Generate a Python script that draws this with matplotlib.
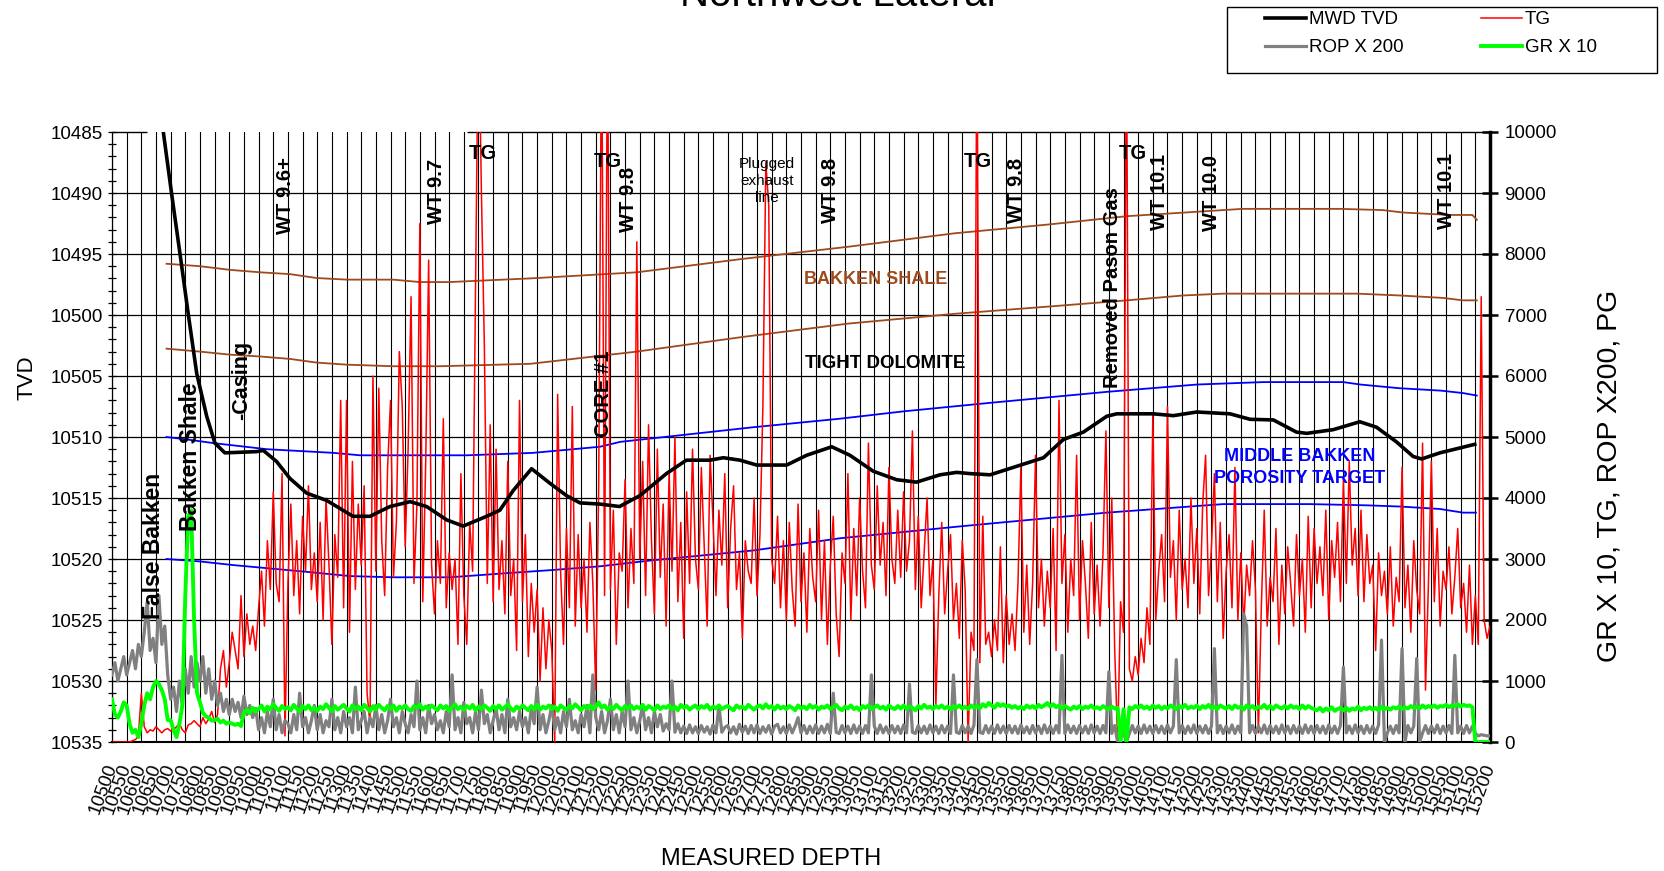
import numpy as np
import matplotlib
matplotlib.use("Agg")
import matplotlib.pyplot as plt
from matplotlib.patches import Rectangle
from matplotlib.ticker import MultipleLocator

plt.rcParams['font.family'] = ['Liberation Sans', 'DejaVu Sans']

# mud log samples, one every 10 ft of measured depth (10500 - 15200)
md_log = np.arange(10500, 15210, 10)

# total gas, one row per 100 ft
tg_rows = [
    [0, 0, 0, 0, 0, 0, 0, 20, 40, 100],
    [800, 250, 150, 200, 180, 250, 200, 150, 200, 220],
    [180, 200, 250, 300, 200, 150, 280, 300, 350, 300],
    [250, 400, 300, 380, 500, 320, 450, 1200, 1500, 900],
    [1300, 1800, 1500, 1200, 2400, 1400, 2100, 1600, 1900, 1500],
    [2200, 2800, 1900, 3300, 2500, 4100, 2600, 2300, 4400, 100],
    [2600, 3900, 2400, 3300, 2100, 3700, 2800, 4200, 2500, 3100],
    [2300, 3600, 2000, 4000, 2900, 1600, 3400, 2700, 5600, 2200],
    [5600, 1800, 4600, 2500, 3900, 2900, 4200, 800, 300, 6000],
    [2800, 5800, 3300, 2400, 4500, 5600, 2700, 3600, 6400, 5500],
    [3200, 4800, 7300, 2600, 3900, 8500, 2300, 4600, 7900, 2900],
    [2100, 3300, 2600, 5300, 2200, 3100, 2500, 3000, 1600, 4400],
    [2400, 1600, 3600, 2800, 7500, 12000, 9000, 6500, 2600, 5200],
    [2300, 4800, 2500, 3300, 2100, 4600, 2400, 3000, 1500, 5600],
    [2300, 3400, 1400, 2600, 1800, 2500, 1000, 2200, 1200, 2000],
    [1500, 0, 5700, 2800, 1600, 3500, 2200, 5500, 1900, 3400],
    [2200, 3000, 1800, 3600, 2600, 850, 4200, 12000, 2400, 12000],
    [2500, 3800, 1600, 3100, 2800, 4300, 2200, 3500, 2600, 8200],
    [3000, 4600, 2400, 5200, 3300, 2100, 4800, 2700, 3900, 1900],
    [4400, 2800, 5000, 2300, 3600, 1700, 4100, 2600, 4800, 3000],
    [2500, 4500, 3200, 1900, 4700, 3600, 2400, 3800, 2900, 4400],
    [2200, 3500, 4200, 2500, 3100, 1700, 3300, 2800, 2600, 4000],
    [2400, 3400, 5500, 9500, 8800, 3000, 2600, 3700, 2200, 3300],
    [2000, 3600, 2500, 1900, 3900, 2300, 3100, 1800, 3500, 2700],
    [2300, 3800, 2000, 3300, 1600, 2900, 3700, 2100, 1400, 3100],
    [2600, 4400, 2000, 3500, 2400, 4000, 2800, 2200, 4900, 2900],
    [2500, 4200, 2900, 3600, 2400, 4500, 3000, 2600, 3800, 2700],
    [4100, 2800, 3300, 5100, 2500, 3700, 2200, 3100, 4000, 2400],
    [3000, 600, 2400, 3600, 2100, 2800, 3400, 2000, 2600, 1700],
    [3300, 2500, 0, 1800, 1500, 12000, 1300, 3700, 1600, 1800],
    [1400, 2000, 1500, 3200, 1300, 2400, 1600, 2100, 1500, 2600],
    [4500, 1800, 2900, 1600, 2600, 4700, 2200, 3000, 1900, 2800],
    [2200, 3500, 1500, 5600, 2600, 3400, 1800, 3000, 2400, 4700],
    [2000, 3300, 2600, 1700, 3600, 2100, 2900, 1900, 3100, 5100],
    [2200, 4000, 1500, 0, 2300, 1800, 12000, 1200, 1000, 1400],
    [1100, 1700, 1300, 2200, 1600, 5400, 2000, 2800, 3400, 2300],
    [5500, 2700, 3300, 2000, 3800, 2500, 3000, 2200, 4000, 2600],
    [3500, 2100, 3900, 4700, 2400, 3200, 4400, 2300, 3600, 1700],
    [2800, 3400, 2200, 4500, 2000, 3100, 1900, 2900, 2400, 3300],
    [2500, 150, 2200, 3800, 1900, 2700, 2300, 3500, 1600, 2900],
    [2100, 3200, 2600, 1900, 3400, 2400, 3000, 1800, 3700, 2200],
    [3500, 2600, 3200, 2400, 3800, 2000, 3300, 2700, 3600, 2300],
    [4300, 2600, 4600, 2900, 3500, 2400, 3800, 2300, 3400, 2600],
    [2900, 1500, 3100, 2400, 2800, 2100, 3200, 1900, 2700, 2300],
    [4500, 2200, 2900, 1800, 3300, 2500, 2100, 4900, 850, 2600],
    [4600, 2300, 3500, 1900, 2800, 2500, 3200, 2100, 2700, 3500],
    [2200, 2600, 1800, 2900, 1600, 2400, 1600, 7300, 2000, 1700],
    [1900],
]

# rate of penetration x 200
rop_rows = [
    [1100, 1300, 1000, 1200, 1400, 1100, 1300, 1500, 1200, 1600],
    [1400, 1800, 2300, 1500, 1700, 1300, 2400, 1600, 1900, 1100],
    [700, 900, 500, 1000, 600, 1200, 800, 1400, 900, 1300],
    [1000, 1400, 800, 1200, 700, 1000, 600, 800, 500, 700],
    [450, 700, 500, 650, 400, 750, 450, 600, 400, 550],
    [200, 400, 150, 500, 250, 700, 200, 450, 150, 350],
    [300, 150, 450, 200, 800, 250, 400, 150, 350, 600],
    [200, 450, 150, 350, 250, 700, 200, 400, 150, 500],
    [250, 400, 150, 900, 200, 350, 500, 150, 400, 250],
    [600, 200, 450, 150, 350, 700, 250, 400, 150, 500],
    [300, 150, 450, 250, 1000, 200, 400, 150, 600, 300],
    [450, 200, 350, 150, 500, 250, 1100, 200, 400, 150],
    [650, 300, 400, 150, 500, 200, 850, 300, 450, 150],
    [350, 550, 200, 450, 150, 700, 250, 400, 200, 500],
    [250, 400, 150, 550, 300, 900, 200, 450, 150, 350],
    [600, 200, 400, 150, 500, 250, 700, 200, 350, 150],
    [450, 250, 600, 150, 1100, 400, 200, 500, 150, 350],
    [700, 200, 450, 150, 500, 250, 1000, 200, 400, 150],
    [350, 600, 200, 400, 150, 500, 250, 450, 180, 300],
    [200, 1000, 160, 300, 150, 260, 140, 280, 150, 250],
    [140, 270, 160, 250, 130, 280, 150, 600, 160, 240],
    [270, 150, 250, 130, 290, 160, 260, 140, 270, 150],
    [280, 140, 250, 160, 270, 130, 260, 290, 150, 250],
    [140, 280, 150, 260, 400, 150, 270, 140, 260, 150],
    [280, 140, 260, 150, 290, 140, 800, 160, 140, 270],
    [150, 260, 140, 280, 150, 260, 140, 270, 150, 1100],
    [260, 140, 280, 150, 250, 140, 270, 150, 260, 140],
    [280, 150, 950, 160, 140, 270, 150, 260, 140, 280],
    [150, 260, 140, 270, 150, 260, 140, 1100, 160, 140],
    [270, 150, 260, 140, 280, 1350, 160, 140, 270, 150],
    [260, 140, 280, 150, 260, 140, 270, 150, 260, 140],
    [280, 150, 250, 140, 270, 150, 260, 140, 280, 150],
    [260, 140, 270, 150, 1420, 140, 280, 150, 260, 140],
    [270, 150, 260, 140, 280, 150, 260, 140, 270, 150],
    [1150, 140, 270, 0, 260, 150, 0, 140, 270, 150],
    [260, 140, 280, 150, 260, 140, 270, 150, 260, 140],
    [280, 150, 260, 1350, 150, 270, 140, 260, 150, 280],
    [140, 260, 150, 270, 140, 260, 1530, 150, 270, 140],
    [260, 150, 280, 140, 260, 150, 2100, 1900, 150, 270],
    [140, 260, 150, 280, 140, 270, 150, 260, 140, 280],
    [150, 260, 140, 270, 150, 260, 140, 280, 150, 260],
    [140, 270, 150, 260, 140, 280, 150, 260, 140, 270],
    [1230, 150, 260, 140, 280, 150, 260, 140, 270, 150],
    [260, 140, 280, 1670, 0, 150, 260, 140, 270, 150],
    [1530, 0, 270, 150, 260, 1370, 0, 150, 270, 140],
    [260, 150, 280, 140, 260, 150, 270, 140, 1420, 150],
    [260, 140, 270, 150, 260, 140, 100, 120, 110, 100],
    [100],
]

# gamma ray x 10
gr_rows = [
    [700, 450, 400, 500, 650, 600, 300, 150, 200, 80],
    [300, 600, 800, 700, 900, 1000, 950, 850, 700, 360],
    [360, 200, 80, 300, 600, 2400, 3700, 3800, 2000, 800],
    [650, 480, 420, 400, 350, 360, 380, 320, 350, 300],
    [320, 300, 280, 300, 260, 480, 530, 470, 560, 500],
    [540, 600, 500, 580, 530, 620, 560, 510, 590, 540],
    [570, 520, 610, 550, 500, 590, 540, 600, 520, 560],
    [510, 580, 540, 620, 560, 500, 590, 530, 570, 610],
    [550, 500, 600, 540, 580, 520, 610, 560, 500, 590],
    [530, 610, 560, 520, 590, 540, 600, 510, 580, 550],
    [600, 540, 510, 590, 560, 620, 530, 580, 540, 600],
    [560, 520, 600, 550, 590, 510, 570, 620, 540, 580],
    [530, 590, 550, 610, 520, 580, 540, 600, 560, 510],
    [590, 540, 600, 530, 570, 620, 550, 510, 580, 540],
    [600, 560, 520, 590, 540, 610, 530, 580, 550, 600],
    [540, 580, 510, 600, 560, 530, 590, 550, 620, 570],
    [520, 590, 550, 600, 540, 580, 650, 560, 600, 530],
    [580, 540, 610, 560, 520, 590, 550, 600, 540, 580],
    [550, 610, 530, 590, 560, 520, 600, 540, 580, 560],
    [600, 540, 580, 520, 610, 560, 590, 530, 570, 600],
    [540, 590, 560, 610, 530, 580, 550, 600, 540, 570],
    [590, 550, 520, 600, 560, 580, 540, 610, 570, 530],
    [580, 600, 550, 620, 560, 590, 530, 600, 550, 580],
    [540, 590, 560, 520, 600, 550, 580, 540, 610, 560],
    [590, 530, 580, 560, 600, 540, 570, 610, 550, 520],
    [580, 550, 600, 540, 570, 520, 590, 560, 600, 540],
    [570, 600, 550, 580, 530, 600, 560, 540, 590, 550],
    [600, 540, 580, 560, 520, 590, 550, 610, 560, 580],
    [540, 590, 560, 600, 550, 580, 530, 590, 560, 600],
    [550, 580, 540, 600, 560, 590, 550, 620, 580, 640],
    [600, 560, 630, 590, 620, 580, 600, 560, 590, 550],
    [580, 540, 600, 560, 590, 550, 610, 570, 600, 640],
    [580, 620, 570, 600, 550, 590, 560, 530, 580, 550],
    [590, 540, 580, 560, 600, 550, 570, 540, 590, 560],
    [540, 580, 550, 560, 0, 540, 0, 570, 540, 590],
    [560, 600, 550, 580, 540, 600, 560, 590, 540, 580],
    [550, 600, 570, 540, 590, 560, 610, 550, 580, 560],
    [600, 540, 590, 560, 610, 550, 580, 540, 600, 570],
    [550, 590, 540, 600, 560, 580, 530, 600, 560, 590],
    [540, 580, 560, 610, 550, 590, 540, 600, 570, 550],
    [590, 550, 600, 560, 580, 540, 600, 550, 590, 560],
    [540, 520, 560, 500, 550, 520, 570, 510, 540, 560],
    [520, 560, 510, 550, 530, 580, 520, 560, 540, 570],
    [530, 560, 520, 580, 540, 560, 530, 570, 550, 580],
    [540, 570, 550, 590, 560, 580, 550, 600, 560, 590],
    [570, 600, 560, 590, 580, 610, 570, 600, 590, 620],
    [580, 610, 590, 600, 570, 0, 0, 0, 0, 0],
    [0],
]

tg = [v for row in tg_rows for v in row]
rop = [v for row in rop_rows for v in row]
gr = [v for row in gr_rows for v in row]

# MWD survey TVD along the lateral
md_tvd = [10675, 10703, 10732, 10760, 10789, 10823, 10851, 10885, 10993, 11016,
          11061, 11107, 11164, 11232, 11322, 11380, 11448, 11517, 11573, 11642,
          11698, 11778, 11823, 11868, 11931, 11994, 12050, 12096, 12164, 12231,
          12301, 12391, 12459, 12539, 12585, 12642, 12699, 12801, 12869, 12955,
          13017, 13096, 13176, 13244, 13324, 13381, 13426, 13495, 13586, 13677,
          13745, 13813, 13893, 13927, 14052, 14120, 14200, 14313, 14382, 14461,
          14540, 14575, 14665, 14756, 14813, 14881, 14938, 14967, 15029, 15097,
          15148]
tvd = [10485, 10490, 10495, 10499.9, 10504.8, 10508.3, 10510.5, 10511.3, 10511.2, 10511.1,
       10512.0, 10513.4, 10514.6, 10515.2, 10516.5, 10516.5, 10515.7, 10515.3, 10515.7, 10516.8,
       10517.3, 10516.5, 10516.0, 10514.4, 10512.6, 10513.8, 10514.8, 10515.4, 10515.5, 10515.7,
       10514.8, 10513.0, 10511.9, 10511.9, 10511.7, 10511.9, 10512.3, 10512.3, 10511.5, 10510.8,
       10511.5, 10512.8, 10513.5, 10513.7, 10513.1, 10512.9, 10513.0, 10513.1, 10512.4, 10511.7,
       10510.2, 10509.6, 10508.3, 10508.1, 10508.1, 10508.25, 10507.95, 10508.1, 10508.55, 10508.6,
       10509.6, 10509.7, 10509.4, 10508.75, 10509.2, 10510.4, 10511.6, 10511.8, 10511.3, 10510.9,
       10510.6]

# formation tops
shale_top_md = [10686, 10800, 10902, 11005, 11107, 11198, 11300, 11459, 11550, 11650, 11927,
                12290, 12651, 13013, 13375, 13699, 13961, 14357, 14688, 14834, 14903, 15063,
                15140, 15155]
shale_top_tvd = [10495.8, 10496.0, 10496.3, 10496.5, 10496.65, 10496.97, 10497.1, 10497.1,
                 10497.3, 10497.3, 10497.0, 10496.5, 10495.4, 10494.4, 10493.3, 10492.57,
                 10491.9, 10491.3, 10491.3, 10491.4, 10491.6, 10491.8, 10491.8, 10492.2]

shale_base_md = [10686, 10800, 10902, 11005, 11107, 11198, 11300, 11459, 11619, 11927, 12290,
                 12651, 13013, 13375, 13699, 13961, 14153, 14290, 14746, 14893, 15040, 15108,
                 15155]
shale_base_tvd = [10502.76, 10503.0, 10503.25, 10503.4, 10503.6, 10503.9, 10504.07, 10504.2,
                  10504.2, 10504.0, 10503.0, 10501.8, 10500.7, 10499.9, 10499.3, 10498.8,
                  10498.4, 10498.25, 10498.25, 10498.4, 10498.6, 10498.8, 10498.8]

target_top_md = [10686, 10755, 10846, 11028, 11255, 11346, 11550, 11710, 11936, 12164, 12233,
                 12460, 12687, 12983, 13199, 13495, 13893, 14200, 14426, 14700, 14758, 14890,
                 15033, 15108, 15155]
target_top_tvd = [10510.0, 10510.2, 10510.5, 10511.0, 10511.3, 10511.5, 10511.5, 10511.5,
                  10511.3, 10510.8, 10510.4, 10509.8, 10509.2, 10508.5, 10507.9, 10507.2,
                  10506.3, 10505.7, 10505.5, 10505.5, 10505.7, 10506.0, 10506.2, 10506.4,
                  10506.6]

target_base_md = [10686, 10800, 10914, 11141, 11312, 11459, 11653, 11823, 12004, 12164, 12345,
                  12687, 12983, 13404, 13893, 14290, 14586, 14779, 14893, 15029, 15108, 15152]
target_base_tvd = [10520.0, 10520.2, 10520.5, 10521.0, 10521.4, 10521.5, 10521.5, 10521.2,
                   10520.9, 10520.6, 10520.1, 10519.3, 10518.3, 10517.3, 10516.2, 10515.5,
                   10515.5, 10515.6, 10515.7, 10515.9, 10516.2, 10516.2]

md_ticks = list(range(10500, 15201, 50))
tvd_ticks = list(range(10485, 10536, 5))

BROWN = '#9E4A1C'

W, H = 1664, 871
fig = plt.figure(figsize=(W / 100, H / 100), dpi=100)
fig.patch.set_facecolor('white')
ax = fig.add_axes([112 / W, (H - 742) / H, 1378 / W, 610 / H])
ax2 = ax.twinx()

# grid
for t in tvd_ticks[1:-1]:
    ax.axhline(t, color='black', lw=0.9, zorder=0.5)
ax.hlines([10485, 10485], [10500, 11710], [10620, 15200], color='black', lw=1.0, clip_on=False)
ax.grid(True, axis='x', color='black', lw=0.8)
ax.set_axisbelow(True)

# formation lines
ax.plot(shale_top_md, shale_top_tvd, color=BROWN, lw=1.3)
ax.plot(shale_base_md, shale_base_tvd, color=BROWN, lw=1.3)
ax.plot(target_top_md, target_top_tvd, color='#0000FF', lw=1.3)
ax.plot(target_base_md, target_base_tvd, color='#0000FF', lw=1.3)

# logs on the secondary scale
l_tg, = ax2.plot(md_log, tg, color='#FF0000', lw=1.1, zorder=3, label='TG')
l_rop, = ax2.plot(md_log, rop, color='#808080', lw=2.3, zorder=4, label='ROP X 200')
l_gr, = ax2.plot(md_log, gr, color='#00FF00', lw=2.8, zorder=5, label='GR X 10')
l_tvd, = ax2.plot(md_tvd, tvd, color='black', lw=2.6, zorder=6, label='MWD TVD',
                  transform=ax.transData)

ax.set_xlim(10500, 15200)
ax.set_ylim(10535, 10485)
ax2.set_ylim(0, 10000)

ax.set_xticks(md_ticks)
ax.set_xticklabels([str(m) for m in md_ticks], rotation=70, ha='right', va='center',
                   rotation_mode='anchor', fontsize=13.5)
ax.tick_params(axis='x', length=0, pad=16)
ax.set_yticks(tvd_ticks)
ax.set_yticklabels([str(t) for t in tvd_ticks], fontsize=13.5)
ax.yaxis.set_minor_locator(MultipleLocator(1))
ax.tick_params(axis='y', which='both', direction='inout', length=5.5, width=0.9, pad=4)

ax2.set_yticks(range(0, 10001, 1000))
ax2.set_yticklabels([str(v) for v in range(0, 10001, 1000)], fontsize=13.5)
ax2.tick_params(axis='y', direction='inout', length=11, width=1.8, pad=5)

for a in (ax, ax2):
    a.spines['top'].set_visible(False)
ax.spines['left'].set_linewidth(0.9)
ax.spines['bottom'].set_linewidth(1.5)
ax2.spines['right'].set_linewidth(2.5)
ax2.spines['left'].set_visible(False)
ax2.spines['bottom'].set_visible(False)

ax.set_xlabel('MEASURED DEPTH', fontsize=17)
ax.xaxis.set_label_coords(0.478, -0.174)
ax.set_ylabel('TVD', fontsize=16)
ax.yaxis.set_label_coords(-0.054, 0.598)
ax2.set_ylabel('GR X 10, TG, ROP X200, PG', fontsize=20.5)
ax2.yaxis.set_label_coords(1.077, 0.436)

# well-site notes
notes = [
    ('False Bakken', 10643, 10518.9, 90, 16.5),
    ('Bakken Shale', 10769, 10511.6, 90, 16.5),
    ('-Casing', 10943, 10505.4, 90, 15.5),
    ('WT 9.6+', 11093, 10490.2, 90, 14.5),
    ('WT 9.7', 11608, 10489.9, 90, 14.5),
    ('TG', 11765, 10486.8, 0, 14.5),
    ('TG', 12192, 10487.4, 0, 14.5),
    ('WT 9.8', 12263, 10490.5, 90, 14.5),
    ('CORE #1', 12178, 10506.5, 90, 14.5),
    ('WT 9.8', 12952, 10489.8, 90, 14.5),
    ('TG', 13454, 10487.4, 0, 14.5),
    ('WT 9.8', 13586, 10489.8, 90, 14.5),
    ('Removed Pason Gas', 13914, 10497.75, 90, 14.5),
    ('TG', 13982, 10486.8, 0, 14.5),
    ('WT 10.1', 14074, 10489.9, 90, 14.5),
    ('WT 10.0', 14251, 10490.0, 90, 14.5),
    ('WT 10.1', 15053, 10489.8, 90, 14.5),
]
for txt, x, y, rot, size in notes:
    ax2.text(x, y, txt, transform=ax.transData, rotation=rot, ha='center', va='center',
             fontsize=size, fontweight='bold', zorder=7)

ax2.text(12734, 10489.0, 'Plugged\nexhaust\nline', transform=ax.transData, ha='center',
         va='center', fontsize=11, linespacing=1.3, zorder=7)
ax2.text(13104, 10497.1, 'BAKKEN SHALE', transform=ax.transData, ha='center', va='center',
         fontsize=13, fontweight='bold', color=BROWN, zorder=7)
ax2.text(13138, 10504.0, 'TIGHT DOLOMITE', transform=ax.transData, ha='center', va='center',
         fontsize=13.5, fontweight='bold', color='black', zorder=7)
ax2.text(14552, 10512.5, 'MIDDLE BAKKEN\nPOROSITY TARGET', transform=ax.transData,
         ha='center', va='center', fontsize=13, fontweight='bold', color='#0000FF',
         linespacing=1.35, zorder=7)

fig.text(838 / W, 1 - 6 / H, 'Northwest Lateral', ha='center', va='baseline', fontsize=29)

# legend in its own box, top right
fig.patches.append(Rectangle((1227 / W, 1 - 73 / H), 430 / W, 66 / H, transform=fig.transFigure,
                             fill=False, edgecolor='black', lw=1.0))
fig.legend([l_tvd, l_rop, l_tg, l_gr], ['MWD TVD', 'ROP X 200', 'TG', 'GR X 10'], ncol=2,
           loc='upper left', bbox_to_anchor=(1265 / W, 1 - 11 / H), frameon=False,
           fontsize=13.5, handlelength=2.2, handletextpad=0.15, columnspacing=4.1,
           labelspacing=0.6, borderpad=0, borderaxespad=0)

fig.savefig('out.png', dpi=100, facecolor='white')
